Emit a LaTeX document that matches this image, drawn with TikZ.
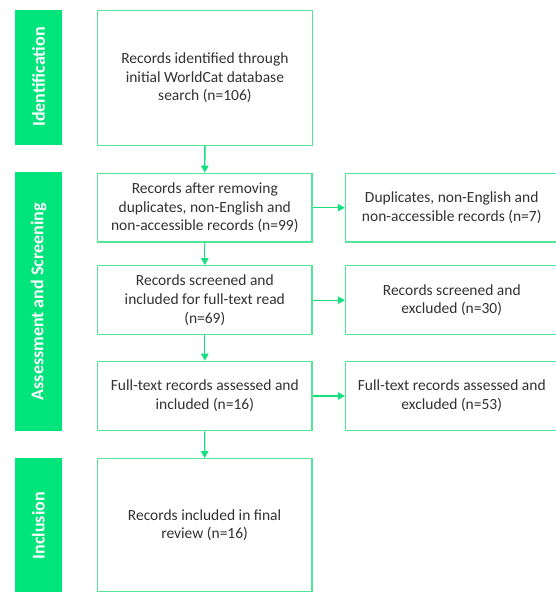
\documentclass[tikz,border=0pt]{standalone}
\usepackage{fontspec}
\setmainfont{Carlito}
\usetikzlibrary{arrows.meta}
\definecolor{barg}{RGB}{0,228,124}
\definecolor{boxg}{RGB}{82,230,150}
\definecolor{arrg}{RGB}{20,225,125}
\definecolor{txt}{RGB}{50,50,50}
\begin{document}
\begin{tikzpicture}[x=1pt,y=-1pt,
  stagebar/.style={fill=barg,draw=none,rotate=90,inner sep=0pt,minimum height=47pt,
    text=white,font=\fontsize{18}{21}\selectfont\bfseries},
  flowbox/.style={draw=boxg,line width=1.3pt,fill=white,inner sep=0pt,align=center,
    text=txt,font=\fontsize{15.5}{18.9}\selectfont},
  flowarrow/.style={draw=arrg,line width=1.3pt,-{Triangle[length=7pt,width=7.5pt]}}]
\useasboundingbox (0,0) rectangle (556,592);
% stage bars
\node[stagebar,minimum width=135pt] (sid) at (38.5,77) {Identification};
\node[stagebar,minimum width=258.7pt] (sas) at (38.5,301.7) {Assessment and Screening};
\node[stagebar,minimum width=136.5pt] (sin) at (38.5,525.75) {Inclusion};
% main column
\node[flowbox,minimum width=215pt,minimum height=135pt] (b1) at (204.9,77.7)
  {Records identified through\\initial WorldCat database\\search (n=106)};
\node[flowbox,minimum width=214.5pt,minimum height=68.7pt] (b2) at (204.8,207.7)
  {Records after removing\\duplicates, non-English and\\non-accessible records (n=99)};
\node[flowbox,minimum width=214.5pt,minimum height=69pt] (b3) at (204.8,300.2)
  {Records screened and\\included for full-text read\\(n=69)};
\node[flowbox,minimum width=214.5pt,minimum height=69.4pt] (b4) at (204.8,396)
  {Full-text records assessed and\\included (n=16)};
\node[flowbox,minimum width=214.5pt,minimum height=133pt] (b5) at (204.6,525.2)
  {Records included in final\\review (n=16)};
% right column
\node[flowbox,minimum width=212.5pt,minimum height=68.7pt] (r1) at (451.75,207.7)
  {Duplicates, non-English and\\non-accessible records (n=7)};
\node[flowbox,minimum width=212.5pt,minimum height=69pt] (r2) at (451.75,300.2)
  {Records screened and\\excluded (n=30)};
\node[flowbox,minimum width=212.5pt,minimum height=69.4pt] (r3) at (451.75,396)
  {Full-text records assessed and\\excluded (n=53)};
% arrows
\draw[flowarrow] (b1.south) -- (b2.north);
\draw[flowarrow] (b2.south) -- (b3.north);
\draw[flowarrow] (b3.south) -- (b4.north);
\draw[flowarrow] (b4.south) -- (b5.north);
\draw[flowarrow] (b2.east) -- (r1.west);
\draw[flowarrow] (b3.east) -- (r2.west);
\draw[flowarrow] (b4.east) -- (r3.west);
\end{tikzpicture}
\end{document}
